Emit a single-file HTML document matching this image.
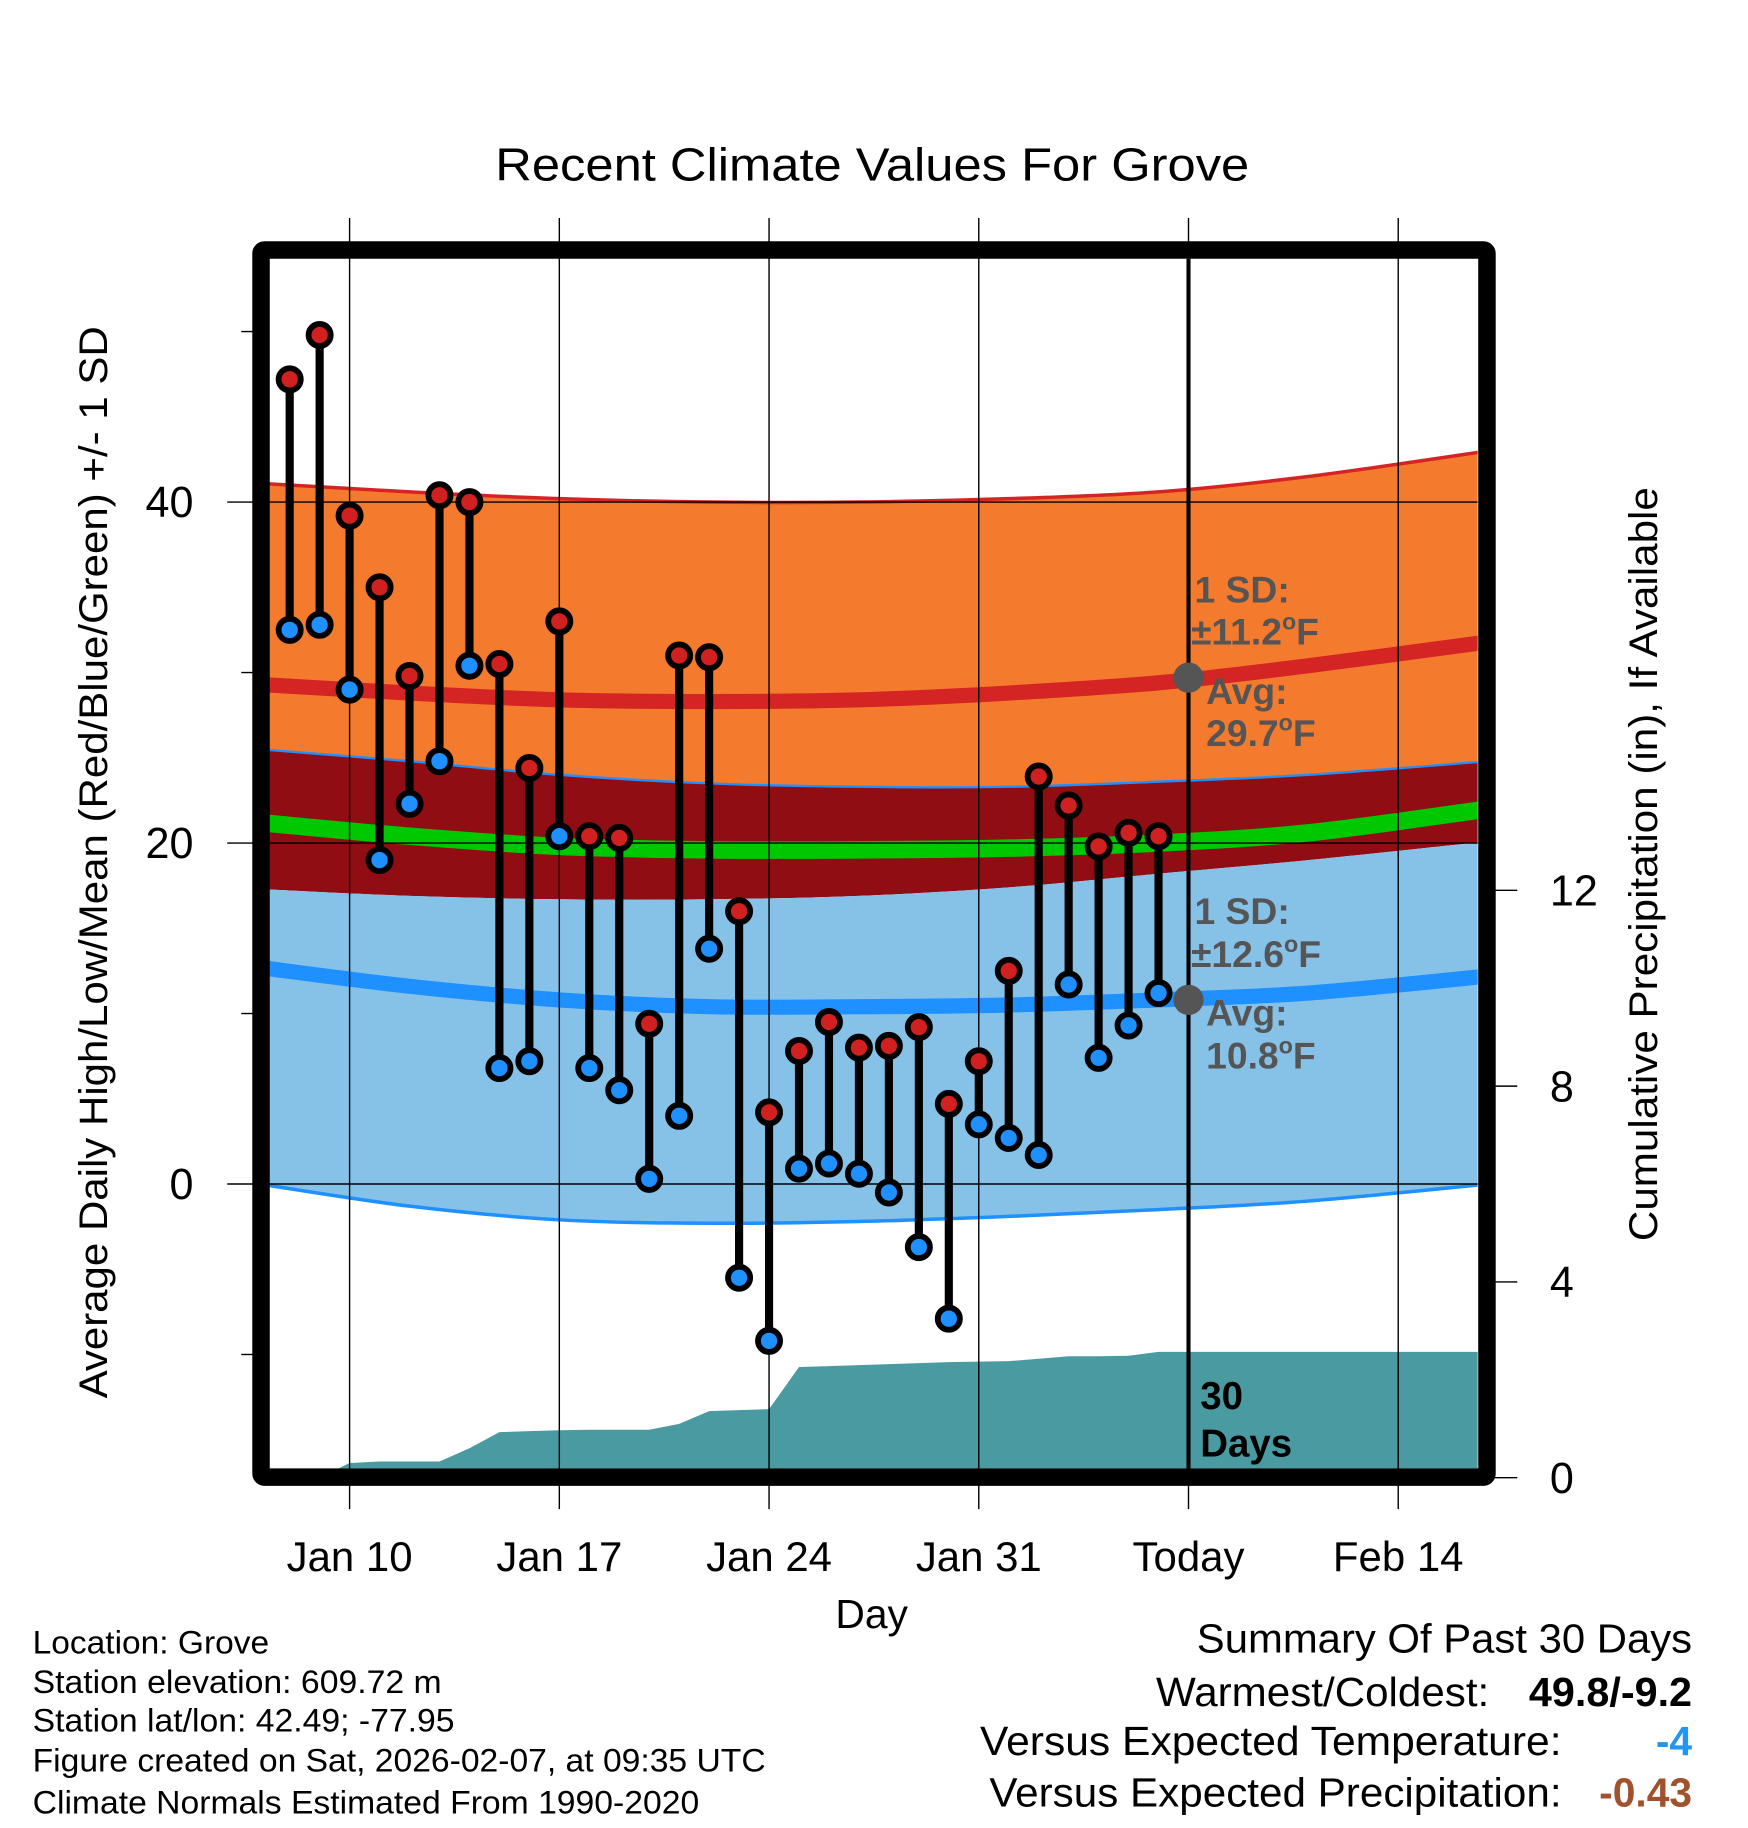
<!DOCTYPE html>
<html><head><meta charset="utf-8"><style>
html,body{margin:0;padding:0;background:#fff;}
svg{display:block;font-family:"Liberation Sans",sans-serif;}
</style></head><body>
<svg id="chart" width="1748" height="1828" viewBox="0 0 1500 1568.6" xmlns="http://www.w3.org/2000/svg">
<defs><clipPath id="plotclip"><rect x="231" y="222" width="1037" height="1038"/></clipPath></defs>
<g id="bands" clip-path="url(#plotclip)"></g>
<g id="grid"></g>
<g id="marks" clip-path="url(#plotclip)"></g>
<g id="frame"></g>
<text x="425" y="155" font-size="40" textLength="647" lengthAdjust="spacingAndGlyphs">Recent Climate Values For Grove</text>
<text transform="translate(92,1200) rotate(-90)" font-size="34" textLength="920" lengthAdjust="spacingAndGlyphs">Average Daily High/Low/Mean (Red/Blue/Green) +/- 1 SD</text>
<text transform="translate(1422,1065) rotate(-90)" font-size="34" textLength="647" lengthAdjust="spacingAndGlyphs">Cumulative Precipitation (in), If Available</text>
<text x="748" y="1397" font-size="35" text-anchor="middle">Day</text>
<g font-size="27.5" lengthAdjust="spacingAndGlyphs">
<text x="28" y="1419" textLength="203" lengthAdjust="spacingAndGlyphs">Location: Grove</text>
<text x="28" y="1453" textLength="351" lengthAdjust="spacingAndGlyphs">Station elevation: 609.72 m</text>
<text x="28" y="1486" textLength="362" lengthAdjust="spacingAndGlyphs">Station lat/lon: 42.49; -77.95</text>
<text x="28" y="1520" textLength="629" lengthAdjust="spacingAndGlyphs">Figure created on Sat, 2026-02-07, at 09:35 UTC</text>
<text x="28" y="1556" textLength="572" lengthAdjust="spacingAndGlyphs">Climate Normals Estimated From 1990-2020</text>
</g>
<g font-size="35">
<text x="1027" y="1418" textLength="425" lengthAdjust="spacingAndGlyphs">Summary Of Past 30 Days</text>
<text x="992" y="1464" textLength="286" lengthAdjust="spacingAndGlyphs">Warmest/Coldest:</text>
<text x="1312" y="1464" font-weight="bold" textLength="140" lengthAdjust="spacingAndGlyphs">49.8/-9.2</text>
<text x="841" y="1506" textLength="499" lengthAdjust="spacingAndGlyphs">Versus Expected Temperature:</text>
<text x="1452" y="1506" font-weight="bold" fill="#2196f3" text-anchor="end">-4</text>
<text x="849" y="1550" textLength="491" lengthAdjust="spacingAndGlyphs">Versus Expected Precipitation:</text>
<text x="1452" y="1550" font-weight="bold" fill="#a0522d" text-anchor="end">-0.43</text>
</g>
</svg>
<script>
// day offsets relative to Jan 10
const dataDays = [-2,-1,0,1,2,3,4,5,6,7,8,9,10,11,12,13,14,15,16,17,18,19,20,21,22,23,24,25,26,27];
const highs = [47.2,49.8,39.2,35.0,29.8,40.4,40.0,30.5,24.4,33.0,20.4,20.3,9.4,31.0,30.9,16.0,4.2,7.8,9.5,8.0,8.1,9.2,4.7,7.2,12.5,23.9,22.2,19.8,20.6,20.4];
const lows = [32.5,32.8,29.0,19.0,22.3,24.8,30.4,6.8,7.2,20.4,6.8,5.5,0.3,4.0,13.8,-5.5,-9.2,0.9,1.2,0.6,-0.5,-3.7,-7.9,3.5,2.7,1.7,11.7,7.4,9.3,11.2];
const precipCum = [0,0,0.3,0.33,0.33,0.33,0.6,0.93,0.95,0.97,0.98,0.98,0.98,1.1,1.36,1.38,1.4,2.26,2.28,2.3,2.32,2.34,2.36,2.37,2.38,2.43,2.48,2.48,2.49,2.57];
const normDays = [-3,2,7,12,17,22,27,32,38];
const highSDup = [41.1,40.6,40.2,40.0,40.0,40.2,40.6,41.5,43.0];
const highAvg = [29.3,28.8,28.4,28.3,28.4,28.8,29.4,30.4,31.8];
const highSDdn = [25.5,24.8,24.0,23.5,23.3,23.3,23.6,24.0,24.8];
const meanAvg = [21.2,20.4,19.8,19.6,19.6,19.7,20.0,20.6,22.0];
const lowSDup = [17.3,16.9,16.7,16.7,16.9,17.4,18.2,19.0,20.1];
const lowAvg = [12.7,11.6,10.8,10.4,10.4,10.5,10.8,11.2,12.2];
const lowSDdn = [0,-1.3,-2.1,-2.3,-2.2,-1.9,-1.5,-1.0,0];
const xTickDays = [0,7,14,21,28,35];
const xTickLabels = ["Jan 10","Jan 17","Jan 24","Jan 31","Today","Feb 14"];
const yTicks = [40,20,0];
const yMinor = [50,30,10,-10];
const pTicks = [0,4,8,12];
const todayDay = 28;
const todayHighAvg = 29.7, todayLowAvg = 10.8;
const highSD = "11.2", lowSD = "12.6";

const NS="http://www.w3.org/2000/svg";
const X = d => 300 + d*25.71;
const Y = v => 1016 - v*14.63;
const P = v => 1268 - v*42.0;
function mk(tag, attrs, parent){const e=document.createElementNS(NS,tag);for(const k in attrs)e.setAttribute(k,attrs[k]);parent.appendChild(e);return e;}
function smooth(xs, ys){
  let d="M"+xs[0]+","+ys[0];
  for(let i=0;i<xs.length-1;i++){
    const x0=xs[Math.max(i-1,0)],y0=ys[Math.max(i-1,0)],x1=xs[i],y1=ys[i],x2=xs[i+1],y2=ys[i+1],x3=xs[Math.min(i+2,xs.length-1)],y3=ys[Math.min(i+2,xs.length-1)];
    d+=" C"+(x1+(x2-x0)/6)+","+(y1+(y2-y0)/6)+" "+(x2-(x3-x1)/6)+","+(y2-(y3-y1)/6)+" "+x2+","+y2;
  }
  return d;
}
function bandPath(top, bot){
  const xs=normDays.map(X);
  const a=smooth(xs, top.map(Y));
  const rx=xs.slice().reverse(), rb=bot.map(Y).reverse();
  const b=smooth(rx, rb).replace(/^M/," L");
  return a+b+" Z";
}
const bands=document.getElementById('bands');
let e;
e=mk('path',{d:bandPath(highSDup,highSDdn),fill:'#f47a2e'},bands);


e=mk('path',{d:bandPath(highSDdn,lowSDup),fill:'#910d14'},bands);


e=mk('path',{d:bandPath(lowSDup,lowSDdn),fill:'#86c1e8'},bands);


const xs=normDays.map(X);
e=mk('path',{d:smooth(xs,highSDup.map(Y)),fill:'none',stroke:'#d42424','stroke-width':3},bands);


e=mk('path',{d:smooth(xs,highSDdn.map(Y)),fill:'none',stroke:'#1e90ff','stroke-width':2},bands);


e=mk('path',{d:smooth(xs,lowSDdn.map(Y)),fill:'none',stroke:'#1e90ff','stroke-width':3},bands);


e=mk('path',{d:smooth(xs,highAvg.map(Y)),fill:'none',stroke:'#d42424','stroke-width':13},bands);


e=mk('path',{d:smooth(xs,meanAvg.map(Y)),fill:'none',stroke:'#00c800','stroke-width':15},bands);


e=mk('path',{d:smooth(xs,lowAvg.map(Y)),fill:'none',stroke:'#1e90ff','stroke-width':13},bands);


let pd="M"+X(dataDays[0])+","+P(0);
dataDays.forEach((d,i)=>{pd+=" L"+X(d)+","+P(precipCum[i]);});
pd+=" L1270,"+P(precipCum[precipCum.length-1])+" L1270,1262 L"+X(dataDays[0])+",1262 Z";
e=mk('path',{d:pd,fill:'#4a9aa2'},bands);



const grid=document.getElementById('grid');
xTickDays.forEach((d,i)=>{
  e=mk('line',{x1:X(d),x2:X(d),y1:187,y2:1295,stroke:'#000','stroke-width':1.2},grid);
  
  
  e=mk('text',{x:X(d),y:1348,'font-size':36,'text-anchor':'middle'},grid);
  e.textContent=xTickLabels[i];
  
  
});
yTicks.forEach(v=>{
  e=mk('line',{x1:195,x2:1268,y1:Y(v),y2:Y(v),stroke:'#000','stroke-width':1.2},grid);
  
  
  e=mk('text',{x:166,y:Y(v)+13,'font-size':37,'text-anchor':'end'},grid);
  e.textContent=v;
  
  
});
yMinor.forEach(v=>{
  e=mk('line',{x1:207,x2:220,y1:Y(v),y2:Y(v),stroke:'#000','stroke-width':1.2},grid);
  
  
});
pTicks.forEach(v=>{
  e=mk('line',{x1:1280,x2:1302,y1:P(v),y2:P(v),stroke:'#000','stroke-width':1.2},grid);
  
  
  e=mk('text',{x:1330,y:P(v)+13,'font-size':37},grid);
  e.textContent=v;
  
  
});

const marks=document.getElementById('marks');
dataDays.forEach((d,i)=>{
  e=mk('line',{x1:X(d),x2:X(d),y1:Y(highs[i]),y2:Y(lows[i]),stroke:'#000','stroke-width':7},marks);
  
  
});
dataDays.forEach((d,i)=>{
  e=mk('circle',{cx:X(d),cy:Y(highs[i]),r:9.5,fill:'#d02020',stroke:'#000','stroke-width':5},marks);
  
  
  e=mk('circle',{cx:X(d),cy:Y(lows[i]),r:9.5,fill:'#1e90ff',stroke:'#000','stroke-width':5},marks);
  
  
});
e=mk('line',{x1:X(todayDay),x2:X(todayDay),y1:222,y2:1262,stroke:'#000','stroke-width':3.5},marks);


e=mk('circle',{cx:X(todayDay),cy:Y(todayHighAvg),r:13,fill:'#555'},marks);


e=mk('circle',{cx:X(todayDay),cy:Y(todayLowAvg),r:13,fill:'#555'},marks);


function degText(x,y,num,name){
  const t=mk('text',{x:x,y:y,'font-size':32,'font-weight':'bold',fill:'#555'},marks);
  
  
  const a=mk('tspan',{},t); a.textContent=num;
  const o=mk('tspan',{'font-size':20,dy:-13},t); o.textContent="o";
  const f=mk('tspan',{dy:13},t); f.textContent="F";
}
function plain(x,y,s,name){
  const t=mk('text',{x:x,y:y,'font-size':32,'font-weight':'bold',fill:'#555'},marks);
  t.textContent=s;
  
  
}
plain(1025,517,"1 SD:",'high-sd-annotation');
degText(1022,553,"±"+highSD,'high-sd-value');
plain(1035,604,"Avg:",'high-avg-annotation');
degText(1035,640,todayHighAvg.toFixed(1),'high-avg-value');
plain(1025,793,"1 SD:",'low-sd-annotation');
degText(1022,830,"±"+lowSD,'low-sd-value');
plain(1035,880,"Avg:",'low-avg-annotation');
degText(1035,917,todayLowAvg.toFixed(1),'low-avg-value');
e=mk('text',{x:1030,y:1209,'font-size':33,'font-weight':'bold'},marks);
e.textContent="30";


e=mk('text',{x:1030,y:1250,'font-size':33,'font-weight':'bold'},marks);
e.textContent="Days";



const frame=document.getElementById('frame');
e=mk('rect',{x:224,y:214.5,width:1052,height:1053,fill:'none',stroke:'#000','stroke-width':15,rx:3},frame);


</script>
</body></html>
